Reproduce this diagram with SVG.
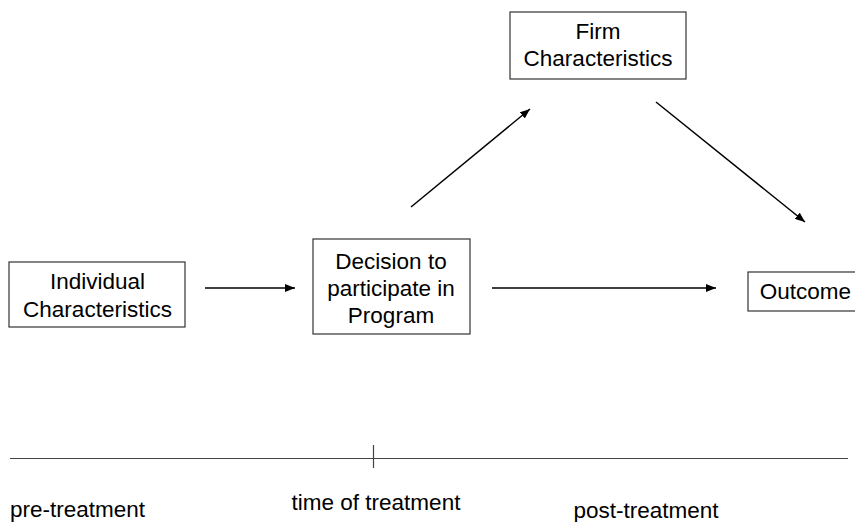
<svg xmlns="http://www.w3.org/2000/svg" width="855" height="522" viewBox="0 0 855 522">
  <defs>
    <marker id="arrow" markerWidth="10" markerHeight="8" refX="10" refY="4" orient="auto" markerUnits="userSpaceOnUse">
      <path d="M0,0 L10,4 L0,8 Z" fill="#000"/>
    </marker>
    <style>
      .box { fill: #fff; stroke: #333; stroke-width: 1.2; }
      .lbl { font-family: "Liberation Sans", Arial, sans-serif; font-size: 22.5px; fill: #000; text-anchor: middle; }
      .conn { stroke: #000; stroke-width: 1.5; fill: none; marker-end: url(#arrow); }
      .axis { stroke: #444; stroke-width: 1.2; fill: none; }
    </style>
  </defs>
  <rect width="855" height="522" fill="#fff"/>

  <g id="connectors">
    <line class="conn" x1="205" y1="288" x2="295" y2="288"/>
    <line class="conn" x1="492" y1="288" x2="716" y2="288"/>
    <line class="conn" x1="411" y1="207" x2="530" y2="109"/>
    <line class="conn" x1="656" y1="102" x2="805" y2="222"/>
  </g>

  <g id="individual">
    <rect class="box" x="9" y="262" width="176" height="65"/>
    <text class="lbl" x="97.5" y="289">Individual</text>
    <text class="lbl" x="97.5" y="317">Characteristics</text>
  </g>

  <g id="decision">
    <rect class="box" x="313" y="239" width="157" height="95"/>
    <text class="lbl" x="391" y="269">Decision to</text>
    <text class="lbl" x="391" y="296">participate in</text>
    <text class="lbl" x="391" y="323">Program</text>
  </g>

  <g id="firm">
    <rect class="box" x="510" y="12" width="176" height="67"/>
    <text class="lbl" x="598" y="39">Firm</text>
    <text class="lbl" x="598" y="66">Characteristics</text>
  </g>

  <g id="outcome">
    <rect class="box" x="748" y="272" width="112" height="39"/>
    <text class="lbl" x="805.5" y="299">Outcome</text>
  </g>

  <g id="timeline">
    <line class="axis" x1="10" y1="458.5" x2="848" y2="458.5"/>
    <line class="axis" x1="373.5" y1="445" x2="373.5" y2="468"/>
    <text class="lbl" x="77.5" y="517">pre-treatment</text>
    <text class="lbl" x="376" y="510">time of treatment</text>
    <text class="lbl" x="646" y="518">post-treatment</text>
  </g>
</svg>
